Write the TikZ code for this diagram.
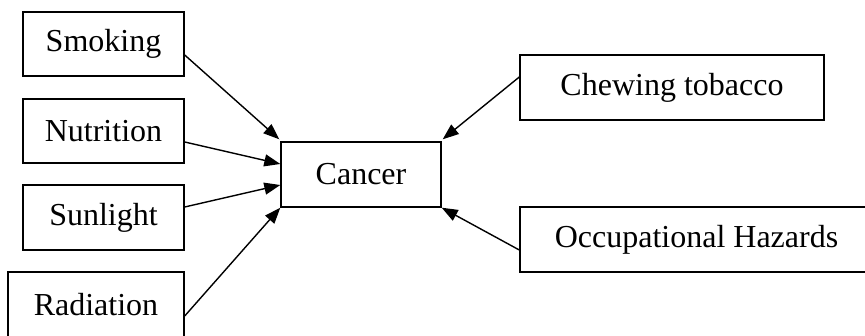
\documentclass[tikz,border=0pt]{standalone}
\usepackage{fontspec}
\setmainfont{Liberation Serif}
\usetikzlibrary{arrows.meta}
\begin{document}
\begin{tikzpicture}[x=1pt,y=-1pt,
  box/.style={draw,line width=1.4pt,inner sep=0pt,font=\fontsize{32}{36}\selectfont},
  arr/.style={line width=1.4pt,-{Triangle[length=16pt,width=12pt]}}]
\useasboundingbox (0,0) rectangle (865,336);
\clip (0,0) rectangle (865,336);
\node[box,minimum width=161pt,minimum height=64pt] (smoking) at (103.5,44) {Smoking};
\node[box,minimum width=161pt,minimum height=64pt] (nutrition) at (103.5,131) {Nutrition};
\node[box,minimum width=161pt,minimum height=65pt] (sunlight) at (103.5,217.5) {Sunlight};
\node[box,minimum width=176pt,minimum height=66pt] (radiation) at (96,305) {Radiation};
\node[box,minimum width=160pt,minimum height=65pt] (cancer) at (361,174.5) {Cancer};
\node[box,minimum width=304pt,minimum height=65pt] (chewing) at (672,87.5) {Chewing tobacco};
\node[box,minimum width=353pt,minimum height=65pt] (occup) at (696.5,239.5) {Occupational Hazards};
\draw[arr] ([yshift=-11pt]smoking.east) -- ([xshift=-1pt,yshift=2pt]cancer.north west);
\draw[arr] ([yshift=-11pt]nutrition.east) -- ([yshift=10.5pt]cancer.west);
\draw[arr] ([yshift=10.5pt]sunlight.east) -- ([yshift=-10.5pt]cancer.west);
\draw[arr] ([yshift=-11pt]radiation.east) -- (cancer.south west);
\draw[arr] ([yshift=10.5pt]chewing.west) -- ([xshift=1pt,yshift=2pt]cancer.north east);
\draw[arr] ([yshift=-10.5pt]occup.west) -- (cancer.south east);
\end{tikzpicture}
\end{document}
